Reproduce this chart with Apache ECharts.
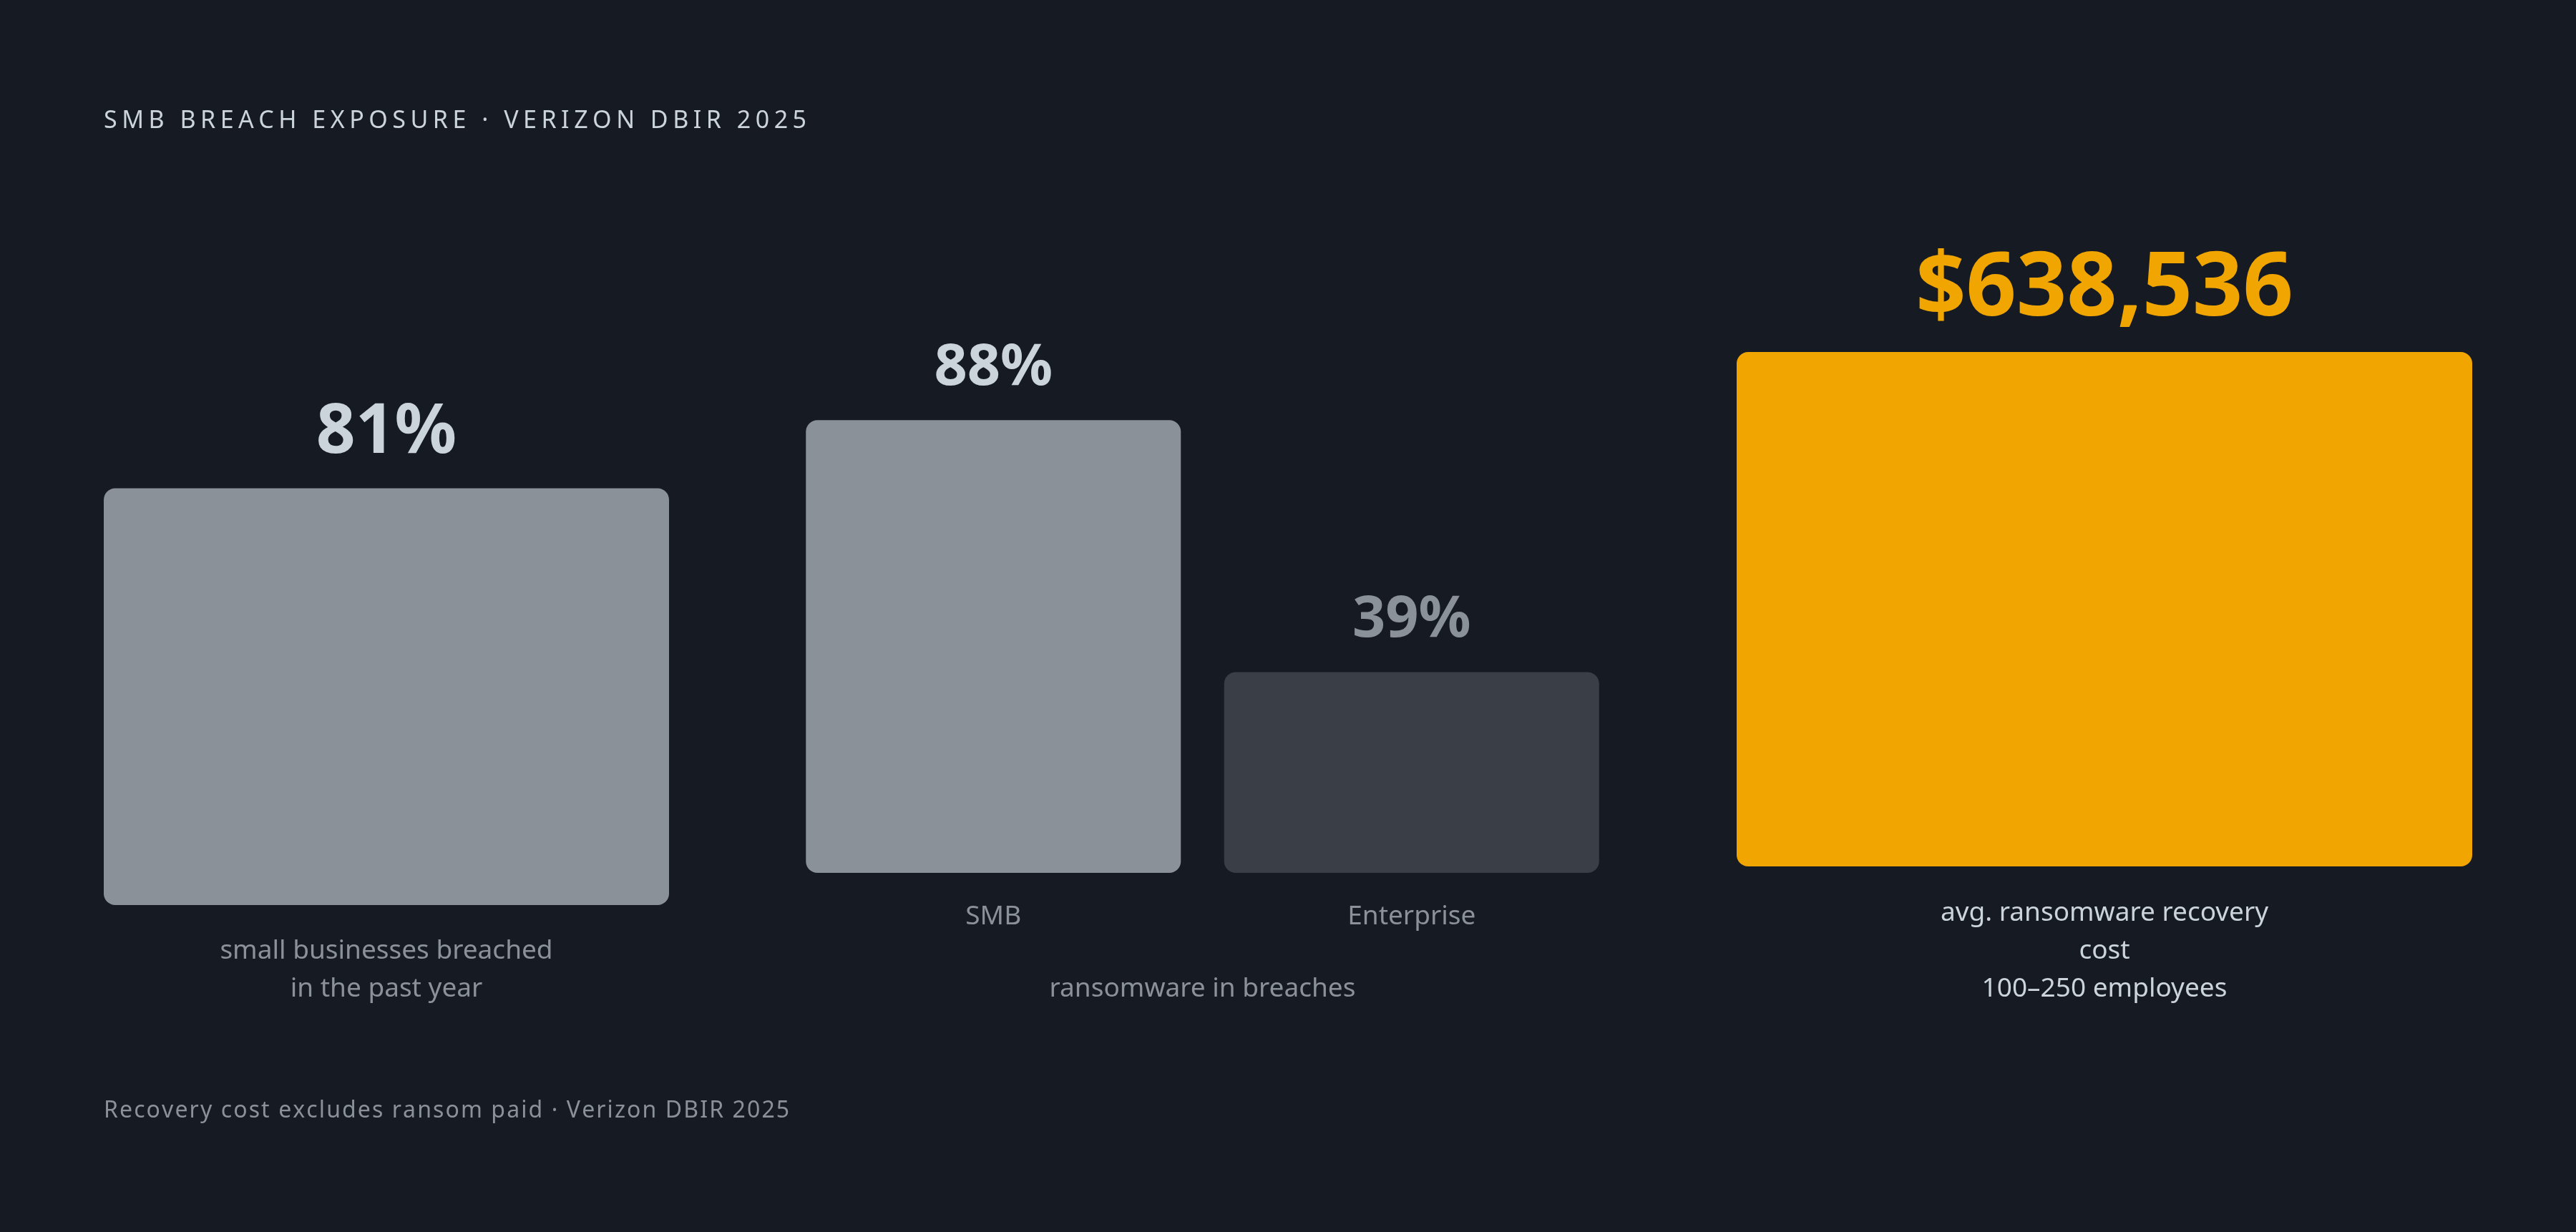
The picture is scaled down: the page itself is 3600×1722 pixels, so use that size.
<!DOCTYPE html>
<html>
<head>
<meta charset="utf-8">
<style>
  html, body { margin: 0; padding: 0; background: #161a23; }
  #chart { width: 3600px; height: 1722px; }
</style>
<script src="https://cdn.jsdelivr.net/npm/echarts@6/dist/echarts.min.js"></script>
</head>
<body>
<div id="chart"></div>
<script>
// ---- data ----
const titleText = 'SMB BREACH EXPOSURE · VERIZON DBIR 2025';
const footnoteText = 'Recovery cost excludes ransom paid · Verizon DBIR 2025';

const breachCategories = ['small businesses breached\nin the past year'];
const breachValues = [81];

const ransomCategories = ['SMB', 'Enterprise'];
const ransomValues = [88, 39];
const ransomGroupName = 'ransomware in breaches';

const costCategories = ['avg. ransomware recovery\ncost\n100–250 employees'];
const costValues = [638536];

// ---- tracked (letter-spaced) texts: draw glyph by glyph with extra advance ----
const tracking = new Map([[titleText, 6.5], [footnoteText, 2.1]]);
const origFillText = CanvasRenderingContext2D.prototype.fillText;
CanvasRenderingContext2D.prototype.fillText = function (t, x, y, m) {
  if (tracking.has(t) && (this.textAlign === 'left' || this.textAlign === 'start')) {
    const sp = tracking.get(t);
    let cx = x;
    for (const ch of t) {
      origFillText.call(this, ch, cx, y);
      cx += this.measureText(ch).width + sp;
    }
    return;
  }
  return m === undefined ? origFillText.call(this, t, x, y) : origFillText.call(this, t, x, y, m);
};

const FONT = '"Noto Sans", "IBM Plex Sans", sans-serif';
const BG = '#161a23';
const GRAY = '#8b9199';
const DARK = '#3a3f47';
const LIGHT = '#cbd3db';
const AMBER = '#f0a500';

const chart = echarts.init(document.getElementById('chart'), null, { renderer: 'canvas' });

const baseX = (gridIndex, data, margin, color, extra) => Object.assign({
  type: 'category',
  gridIndex: gridIndex,
  data: data,
  axisLine: { show: false },
  axisTick: { show: false },
  splitLine: { show: false },
  axisLabel: {
    margin: margin,
    color: color,
    fontFamily: FONT,
    fontSize: 37,
    lineHeight: 53,
    interval: 0
  }
}, extra || {});

const baseY = (gridIndex, max) => ({
  type: 'value',
  gridIndex: gridIndex,
  min: 0,
  max: max,
  show: false,
  splitLine: { show: false }
});

const option = {
  backgroundColor: BG,
  animation: false,
  textStyle: { fontFamily: FONT },
  grid: [
    { left: 145, top: 546, width: 790, height: 719 },
    { left: 1096, top: 501, width: 1169, height: 719 },
    { left: 2427, top: 492, width: 1028, height: 719 }
  ],
  xAxis: [
    baseX(0, breachCategories, 38, GRAY),
    baseX(1, ransomCategories, 35, GRAY, {
      name: ransomGroupName,
      nameLocation: 'middle',
      nameGap: 136,
      nameTextStyle: { color: GRAY, fontFamily: FONT, fontSize: 37, lineHeight: 53 }
    }),
    baseX(2, costCategories, 39, LIGHT)
  ],
  yAxis: [
    baseY(0, 100),
    baseY(1, 100),
    baseY(2, costValues[0])
  ],
  series: [
    {
      type: 'bar',
      xAxisIndex: 0, yAxisIndex: 0,
      data: breachValues,
      barWidth: '100%',
      itemStyle: { color: GRAY, borderRadius: 16 },
      label: {
        show: true, position: 'top', distance: 29,
        formatter: p => p.value + '%',
        color: LIGHT, fontFamily: FONT, fontWeight: 700, fontSize: 96
      }
    },
    {
      type: 'bar',
      xAxisIndex: 1, yAxisIndex: 1,
      barWidth: 524,
      data: ransomValues.map((v, i) => ({
        value: v,
        itemStyle: { color: i === 0 ? GRAY : DARK },
        label: { color: i === 0 ? LIGHT : GRAY }
      })),
      itemStyle: { borderRadius: 16 },
      label: {
        show: true, position: 'top', distance: 32,
        formatter: p => p.value + '%',
        fontFamily: FONT, fontWeight: 700, fontSize: 81
      }
    },
    {
      type: 'bar',
      xAxisIndex: 2, yAxisIndex: 2,
      data: costValues,
      barWidth: '100%',
      itemStyle: { color: AMBER, borderRadius: 16 },
      label: {
        show: true, position: 'top', distance: 25,
        formatter: p => '$' + p.value.toLocaleString('en-US'),
        color: AMBER, fontFamily: FONT, fontWeight: 700, fontSize: 123
      }
    }
  ],
  graphic: [
    {
      type: 'text', left: 145, top: 152,
      style: { text: titleText, fill: LIGHT, font: '400 34px ' + FONT }
    },
    {
      type: 'text', left: 145, top: 1537,
      style: { text: footnoteText, fill: GRAY, font: '400 32px ' + FONT }
    }
  ]
};

chart.setOption(option);
</script>
</body>
</html>
